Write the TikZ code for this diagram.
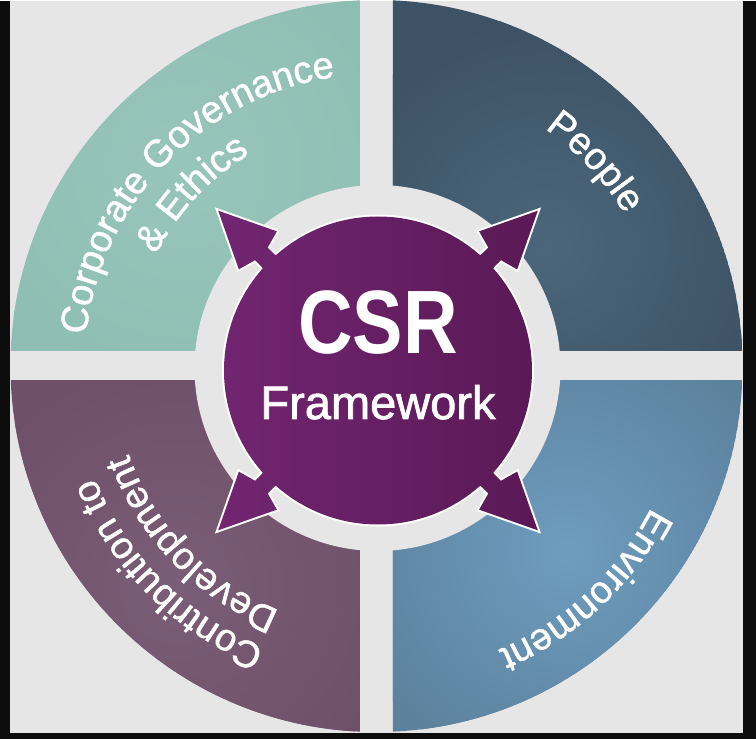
\documentclass[tikz,border=0pt]{standalone}
\usepackage{fontspec}
\setmainfont{Liberation Sans}
\newfontfamily\csrfont[FakeStretch=0.84]{Liberation Sans Bold}
\newfontfamily\lblfont[FakeBold=1.2]{Liberation Sans}
\newfontfamily\fwfont[FakeBold=1.6]{Liberation Sans}
\usetikzlibrary{decorations.text}
\definecolor{frame}{HTML}{0D0D0D}
\definecolor{bg}{HTML}{E6E6E6}
\definecolor{gov}{HTML}{8EBEB3}
\definecolor{govhi}{HTML}{98C5BB}
\definecolor{ppl}{HTML}{3D5264}
\definecolor{pplhi}{HTML}{4B667A}
\definecolor{env}{HTML}{5C819D}
\definecolor{envhi}{HTML}{6E9DBF}
\definecolor{dev}{HTML}{6E5068}
\definecolor{devhi}{HTML}{7A5D76}
\definecolor{purL}{HTML}{722571}
\definecolor{purR}{HTML}{5A1956}
% curved white label: centre angle, baseline radius, text
\newcommand{\arclabel}[3]{%
  \path[decorate,decoration={text along path,text align=center,
    text={|\lblfont\fontsize{38}{38}\selectfont\color{white}|#3}}]
    (#1+60:#2) arc[start angle=#1+60,end angle=#1-60,radius=#2];}
\tikzset{
  hub/.style={left color=purL,right color=purR,preaction={draw=white,line width=4pt}},
  csrtext/.style={anchor=base,text=white,inner sep=0pt,font=\csrfont\fontsize{90}{90}\selectfont},
  fwtext/.style={anchor=base,text=white,inner sep=0pt,font=\fwfont\fontsize{47}{47}\selectfont},
}
\begin{document}
\begin{tikzpicture}[x=1pt,y=1pt]
% ---- frame ----
\fill[frame] (-376.5,-373) rectangle (379.5,365);
\fill[bg] (-366.5,-367) rectangle (366.5,365);
% ---- quadrants ----
\begin{scope}
\clip (0,0) circle (366);
\clip (-366.5,-367) rectangle (366.5,365);
\foreach \sx/\sy/\base/\hi/\hx/\hy in {-1/1/gov/govhi/-190/200,1/1/ppl/pplhi/170/120,
    1/-1/env/envhi/190/-185,-1/-1/dev/devhi/-200/-220}{
  \begin{scope}
    \clip (\sx*16.5,\sy*15) rectangle (\sx*400,\sy*400);
    \fill[\base] (0,0) circle (366);
    \shade[inner color=\hi,outer color=\base] (\hx,\hy) circle (230);
  \end{scope}}
\end{scope}
\fill[bg] (1,-2) circle (183);
% ---- hub with arrows ----
\begin{scope}[shift={(1.5,-4.5)}]
\shade[hub] (0,0) circle (154)
  foreach \a in {45,135,225,315}{(\a-3.6:145) -- (\a-3.1:165.2) -- (\a-9:172) -- (\a:226)
    -- (\a+9:172) -- (\a+3.1:165.2) -- (\a+3.6:145) -- cycle};
\end{scope}
\node[csrtext] (csr) at (1.5,12) {CSR};
\node[fwtext] (fw) at (1.5,-53) {Framework};
% ---- labels ----
\arclabel{136}{292}{Corporate Governance}
\arclabel{137}{247}{{\&} Ethics}
\arclabel{43}{291}{People}
\arclabel{-47}{309}{Environment}
\arclabel{225}{303}{Contribution to}
\arclabel{224}{263}{Development}
\end{tikzpicture}
\end{document}
